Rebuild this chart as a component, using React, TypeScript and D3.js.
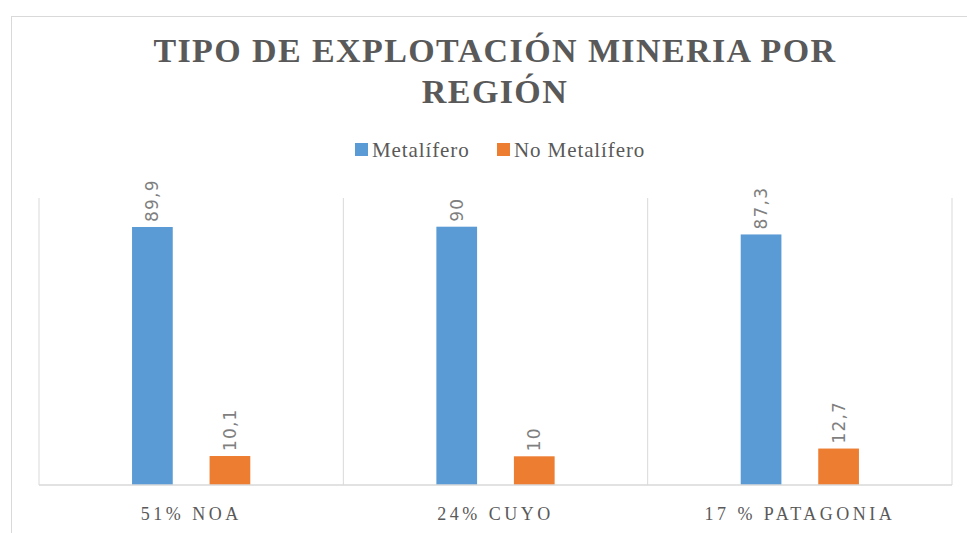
import React, { useEffect, useRef } from 'react';
import * as d3 from 'd3';

// datos
const regions = ['51% NOA', '24% CUYO', '17 % PATAGONIA'];
const series = ['Metalífero', 'No Metalífero'];
const metalifero = [89.9, 90, 87.3];
const noMetalifero = [10.1, 10, 12.7];
const colors = ['#5b9bd5', '#ed7d31'];

const W = 967;
const H = 533;

const App = () => {
  const ref = useRef<SVGSVGElement>(null);

  useEffect(() => {
    const svg = d3.select(ref.current);
    svg.selectAll('*').remove();

    const margin = { top: 198, right: 15, bottom: 48, left: 39 };
    const plotRight = W - margin.right;
    const plotBottom = H - margin.bottom;

    // outer chart border
    svg
      .append('rect')
      .attr('x', 11.5)
      .attr('y', 16.5)
      .attr('width', W)
      .attr('height', H)
      .attr('fill', '#fff')
      .attr('stroke', '#d9d9d9');

    const x0 = d3.scaleBand().domain(regions).range([margin.left, plotRight]);
    const x1 = d3
      .scaleBand()
      .domain(series)
      .range([0, x0.bandwidth()])
      .paddingInner(0.475)
      .paddingOuter(1.2);
    const y = d3.scaleLinear().domain([0, 100]).range([plotBottom, margin.top]);

    // vertical separators between categories
    const seps = regions.map((r) => x0(r)!).concat([plotRight]);
    svg
      .append('g')
      .selectAll('line')
      .data(seps)
      .enter()
      .append('line')
      .attr('x1', (d) => d)
      .attr('x2', (d) => d)
      .attr('y1', y(100))
      .attr('y2', y(0))
      .attr('stroke', '#d9d9d9')
      .attr('stroke-width', 1);

    const rows = regions.map((r, i) => ({ region: r, values: [metalifero[i], noMetalifero[i]] }));
    const fmt = (v: number) => String(v).replace('.', ',');

    const groups = svg
      .append('g')
      .selectAll('g')
      .data(rows)
      .enter()
      .append('g')
      .attr('transform', (d) => `translate(${x0(d.region)},0)`);

    groups
      .selectAll('rect')
      .data((d) => d.values.map((v, j) => ({ s: series[j], v, j })))
      .enter()
      .append('rect')
      .attr('x', (d) => x1(d.s)!)
      .attr('y', (d) => y(d.v))
      .attr('width', x1.bandwidth())
      .attr('height', (d) => y(0) - y(d.v))
      .attr('fill', (d) => colors[d.j]);

    groups
      .selectAll('text')
      .data((d) => d.values.map((v, j) => ({ s: series[j], v, j })))
      .enter()
      .append('text')
      .attr('transform', (d) => `translate(${x1(d.s)! + x1.bandwidth() / 2},${y(d.v) - 5}) rotate(-90)`)
      .attr('dominant-baseline', 'central')
      .attr('fill', '#7f7f7f')
      .attr('font-family', 'DejaVu Sans')
      .attr('font-size', 17)
      .attr('letter-spacing', 1.2)
      .text((d) => fmt(d.v));

    // baseline
    svg
      .append('line')
      .attr('x1', margin.left)
      .attr('x2', plotRight)
      .attr('y1', y(0))
      .attr('y2', y(0))
      .attr('stroke', '#d9d9d9')
      .attr('stroke-width', 1.5);

    // category labels
    svg
      .append('g')
      .selectAll('text')
      .data(regions)
      .enter()
      .append('text')
      .attr('x', (d) => x0(d)! + x0.bandwidth() / 2)
      .attr('y', 520)
      .attr('text-anchor', 'middle')
      .attr('fill', '#595959')
      .attr('font-family', 'Liberation Serif')
      .attr('font-size', 18)
      .attr('letter-spacing', 3.5)
      .text((d) => d);

    // title
    const title = svg
      .append('text')
      .attr('text-anchor', 'middle')
      .attr('fill', '#595959')
      .attr('font-family', 'Liberation Serif')
      .attr('font-weight', 'bold')
      .attr('font-size', 34)
      .attr('letter-spacing', 1.4);
    title.append('tspan').attr('x', 495).attr('y', 62).text('TIPO DE EXPLOTACIÓN MINERIA POR');
    title.append('tspan').attr('x', 495).attr('y', 103).text('REGIÓN');

    // legend
    const legend = svg.append('g');
    const legendX = [355, 497];
    series.forEach((s, i) => {
      legend
        .append('rect')
        .attr('x', legendX[i])
        .attr('y', 143)
        .attr('width', 13)
        .attr('height', 13)
        .attr('fill', colors[i]);
      legend
        .append('text')
        .attr('x', legendX[i] + 17)
        .attr('y', 157)
        .attr('fill', '#595959')
        .attr('font-family', 'Liberation Serif')
        .attr('font-size', 21)
        .attr('letter-spacing', 0.9)
        .text(s);
    });
  }, []);

  return (
    <svg
      ref={ref}
      width={W}
      height={H}
      style={{ position: 'absolute', left: 0, top: 0, background: '#fff' }}
    />
  );
};

export default App;
